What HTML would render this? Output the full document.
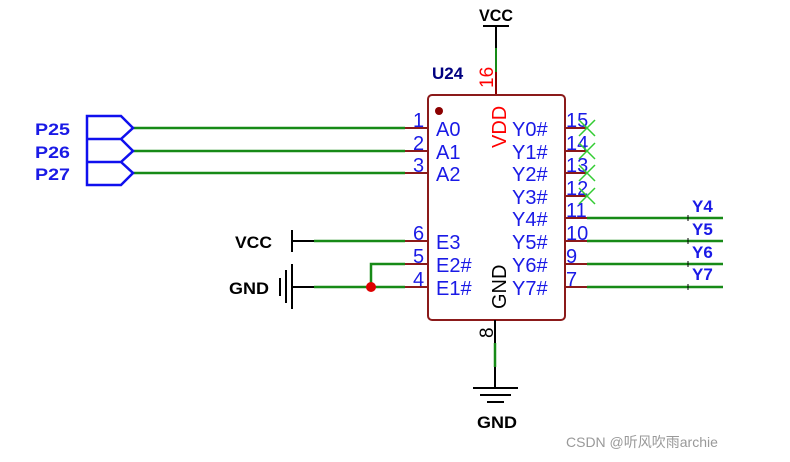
<!DOCTYPE html>
<html><head><style>body{margin:0;background:#fff}svg{display:block}</style></head><body>
<svg width="790" height="462" xmlns="http://www.w3.org/2000/svg" font-family="Liberation Sans, sans-serif">
<rect width="790" height="462" fill="#fff"/>
<text x="496" y="21" font-size="17" font-weight="bold" text-anchor="middle" textLength="34" lengthAdjust="spacingAndGlyphs">VCC</text>
<line x1="483" y1="26" x2="509" y2="26" stroke="#000" stroke-width="2"/>
<line x1="496" y1="26" x2="496" y2="48" stroke="#000" stroke-width="2"/>
<line x1="496" y1="48" x2="496" y2="72" stroke="#178a17" stroke-width="2"/>
<line x1="496" y1="72" x2="496" y2="95" stroke="#8b0000" stroke-width="2"/>
<text x="432" y="79" font-size="17" font-weight="bold" fill="#000080">U24</text>
<text transform="translate(493,88) rotate(-90)" font-size="19" fill="#f00">16</text>
<rect x="428" y="95" width="137" height="225" rx="4" fill="#fff" stroke="#8b1a1a" stroke-width="2"/>
<circle cx="439" cy="111" r="4" fill="#8b0000"/>
<text transform="translate(506,148) rotate(-90)" font-size="20" fill="#f00">VDD</text>
<text transform="translate(506,309) rotate(-90)" font-size="20" fill="#000">GND</text>
<g font-size="20" fill="#1a1ae6">
<text x="436" y="136">A0</text><text x="436" y="159">A1</text><text x="436" y="181">A2</text>
<text x="436" y="249">E3</text><text x="436" y="272">E2#</text><text x="436" y="295">E1#</text>
<text x="512" y="136">Y0#</text><text x="512" y="159">Y1#</text><text x="512" y="181">Y2#</text><text x="512" y="204">Y3#</text>
<text x="512" y="226">Y4#</text><text x="512" y="249">Y5#</text><text x="512" y="272">Y6#</text><text x="512" y="295">Y7#</text>
<text x="413" y="127">1</text><text x="413" y="150">2</text><text x="413" y="172">3</text>
<text x="413" y="240">6</text><text x="413" y="263">5</text><text x="413" y="286">4</text>
<text x="566" y="127">15</text><text x="566" y="150">14</text><text x="566" y="172">13</text><text x="566" y="195">12</text>
<text x="566" y="217">11</text><text x="566" y="240">10</text><text x="566" y="263">9</text><text x="566" y="286">7</text>
</g>
<g stroke="#8b1a1a" stroke-width="2">
<line x1="405" y1="128" x2="428" y2="128"/><line x1="405" y1="151" x2="428" y2="151"/><line x1="405" y1="173" x2="428" y2="173"/>
<line x1="405" y1="241" x2="428" y2="241"/><line x1="405" y1="264" x2="428" y2="264"/><line x1="405" y1="287" x2="428" y2="287"/>
<line x1="565" y1="128" x2="587" y2="128"/><line x1="565" y1="151" x2="587" y2="151"/><line x1="565" y1="173" x2="587" y2="173"/><line x1="565" y1="196" x2="587" y2="196"/>
<line x1="565" y1="218" x2="587" y2="218"/><line x1="565" y1="241" x2="587" y2="241"/><line x1="565" y1="264" x2="587" y2="264"/><line x1="565" y1="287" x2="587" y2="287"/>
<line x1="495" y1="320" x2="495" y2="343" stroke="#000"/>
</g>
<g stroke="#33cc33" stroke-width="1.5">
<path d="M579 120l16 16M595 120l-16 16M579 143l16 16M595 143l-16 16M579 165l16 16M595 165l-16 16M579 188l16 16M595 188l-16 16"/>
</g>
<g stroke="#178a17" stroke-width="2.5" fill="none">
<line x1="133" y1="128" x2="405" y2="128"/><line x1="133" y1="151" x2="405" y2="151"/><line x1="133" y1="173" x2="405" y2="173"/>
<line x1="314" y1="241" x2="405" y2="241"/>
<line x1="314" y1="287" x2="405" y2="287"/>
<path d="M405 264H371V287"/>
<line x1="587" y1="218" x2="723" y2="218"/><line x1="587" y1="241" x2="723" y2="241"/><line x1="587" y1="264" x2="723" y2="264"/><line x1="587" y1="287" x2="723" y2="287"/>
<line x1="495" y1="343" x2="495" y2="367"/>
</g>
<g stroke="#000" stroke-width="1"><path d="M688 215v6M688 238v6M688 261v6M688 284v6"/></g>
<circle cx="371" cy="287" r="5" fill="#d00"/>
<g font-size="17" font-weight="bold" fill="#1a1ae6">
<text x="692" y="212">Y4</text><text x="692" y="235">Y5</text><text x="692" y="258">Y6</text><text x="692" y="280">Y7</text>
<text x="35" y="135" textLength="35" lengthAdjust="spacingAndGlyphs">P25</text><text x="35" y="158" textLength="35" lengthAdjust="spacingAndGlyphs">P26</text><text x="35" y="180" textLength="35" lengthAdjust="spacingAndGlyphs">P27</text>
</g>
<g stroke="#1010ee" stroke-width="2.5" fill="none">
<path d="M87 116H121L133 128L121 139H87ZM87 139H121L133 151L121 162H87ZM87 162H121L133 173L121 185H87Z"/>
</g>
<text x="235" y="248" font-size="17" font-weight="bold" textLength="37" lengthAdjust="spacingAndGlyphs">VCC</text>
<text x="229" y="294" font-size="17" font-weight="bold" textLength="40" lengthAdjust="spacingAndGlyphs">GND</text>
<g stroke="#000" stroke-width="2">
<line x1="292" y1="230" x2="292" y2="252"/><line x1="292" y1="241" x2="314" y2="241"/>
<line x1="292" y1="264" x2="292" y2="309"/><line x1="286" y1="270" x2="286" y2="303"/><line x1="280" y1="278" x2="280" y2="296"/>
<line x1="292" y1="287" x2="314" y2="287"/>
<line x1="495" y1="367" x2="495" y2="388"/>
<line x1="473" y1="388" x2="518" y2="388"/><line x1="480" y1="395" x2="511" y2="395"/><line x1="487" y1="402" x2="504" y2="402"/>
</g>
<text transform="translate(493,338) rotate(-90)" font-size="19" fill="#000">8</text>
<text x="497" y="428" font-size="17" font-weight="bold" text-anchor="middle" textLength="40" lengthAdjust="spacingAndGlyphs">GND</text>
<text x="566" y="447" font-size="14" fill="#999" font-family="Liberation Sans, Noto Sans CJK SC, sans-serif">CSDN @听风吹雨archie</text>
</svg>
</body></html>
